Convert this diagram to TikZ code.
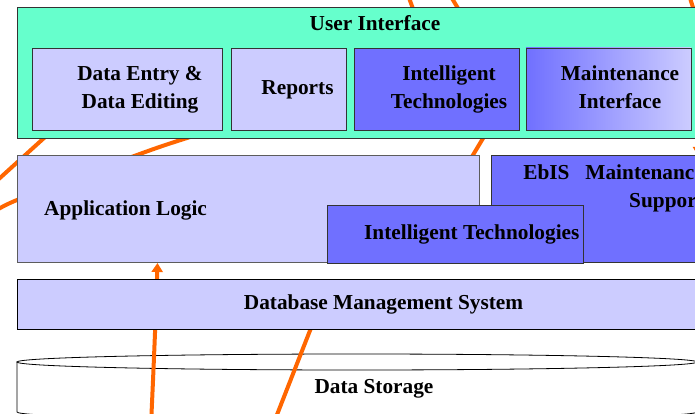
\documentclass[tikz,border=0pt]{standalone}
\usepackage{fontspec}
\setmainfont{Liberation Serif}
\usetikzlibrary{arrows.meta}

\definecolor{uiteal}{HTML}{66FFCC}
\definecolor{lav}{HTML}{CCCCFF}
\definecolor{blu}{HTML}{7070FF}
\definecolor{flow}{HTML}{FF6600}
\definecolor{edge}{HTML}{333333}

\tikzset{
  panel/.style={draw=edge, line width=0.9pt, inner sep=0pt, outer sep=0pt, anchor=north west},
  txt/.style={font=\fontsize{21.3}{28}\selectfont\bfseries, inner sep=0pt, align=center},
  flowline/.style={draw=flow, line width=4pt},
  flowarrow/.style={flowline, -{Triangle[length=9pt,width=11pt]}},
}

\begin{document}
\begin{tikzpicture}[x=1pt,y=-1pt]
\useasboundingbox (0,0) rectangle (695,414);
\clip (0,0) rectangle (695,414);
\fill[white] (0,0) rectangle (695,414);

% storage cylinder
\path[draw=black, fill=white, line width=0.8pt]
  (17,362) -- (17,412) arc[start angle=180, end angle=360, x radius=340pt, y radius=8pt]
  -- (697,362) -- cycle;
\draw[black, fill=white, line width=0.8pt] (357,362) ellipse[x radius=340pt, y radius=8pt];
\node[txt] (store) at (374,387.4) {\strut Data Storage};

% orange flows running behind the layers
\coordinate (a0) at (-10,187);
\coordinate (a1) at (60,123.5);
\draw[flowline] (a0) -- (a1);

\coordinate (b0) at (-10,215);
\coordinate (b1) at (17,200);
\coordinate (b2) at (137,155);
\coordinate (b3) at (187,138);
\coordinate (b4) at (260,116);
\draw[flowline] plot[smooth] coordinates {(b0) (b1) (b2) (b3) (b4)};

\coordinate (d0) at (467,165);
\coordinate (d1) at (488,130);
\draw[flowline] (d0) -- (d1);

\coordinate (t0) at (408,-5);
\coordinate (t1) at (417,20);
\draw[flowline] (t0) -- (t1);
\coordinate (t2) at (450,-5);
\coordinate (t3) at (465,20);
\draw[flowline] (t2) -- (t3);
\coordinate (t4) at (689,-5);
\coordinate (t5) at (697,20);
\draw[flowline] (t4) -- (t5);

\coordinate (e0) at (700,110);
\coordinate (e1) at (698,156);
\draw[flowarrow] (e0) -- (e1);

\coordinate (g0) at (271,430);
\coordinate (g1) at (320,305);
\draw[flowline] (g0) -- (g1);

\coordinate (f0) at (151,425);
\coordinate (f1) at (154,360);
\coordinate (f2) at (156,310);
\coordinate (f3) at (157.5,263);
\draw[flowarrow] (f0) .. controls (f1) and (f2) .. (f3);

% user interface layer
\node[panel, fill=uiteal, minimum width=690pt, minimum height=131.5pt] (ui) at (17,7) {};
\node[txt] (uit) at (375,25.4) {\strut User Interface};

\node[panel, fill=lav, minimum width=190pt, minimum height=82pt] (entry) at (32,48) {};
\node[txt] (entryt) at (140,89.4) {\strut Data Entry \&\\\strut Data Editing};

\node[panel, fill=lav, minimum width=115pt, minimum height=82pt] (rep) at (231,48) {};
\node[txt] (rept) at (297.5,89.4) {\strut Reports};

\node[panel, fill=blu, minimum width=165pt, minimum height=82pt] (itui) at (354,48) {};
\node[txt] (ituit) at (449,88.9) {\strut Intelligent\\\strut Technologies};

\node[panel, left color=blu, right color=lav, minimum width=165pt, minimum height=82pt] (maint) at (526,48) {};
\node[txt] (maintt) at (620,88.9) {\strut Maintenance\\\strut Interface};

% application layer
\node[panel, draw=edge!80, fill=lav, minimum width=462pt, minimum height=107pt] (app) at (17,155) {};
\node[txt, anchor=base west] (appt) at (44,215) {Application Logic};

\node[panel, fill=blu, minimum width=220pt, minimum height=107pt] (ebis) at (491,155) {};
\node[txt, align=right, anchor=east] (ebist) at (704,188) {\strut EbIS~~~Maintenance\\\strut Support};

\node[panel, fill=blu, minimum width=256pt, minimum height=58pt] (itapp) at (327,205) {};
\node[txt, anchor=base west] (itappt) at (364,239) {Intelligent Technologies};

% database layer
\node[panel, draw=black, fill=lav, minimum width=690pt, minimum height=50pt] (dbms) at (17,279) {};
\node[txt] (dbmst) at (383.5,303.4) {\strut Database Management System};
\end{tikzpicture}
\end{document}
